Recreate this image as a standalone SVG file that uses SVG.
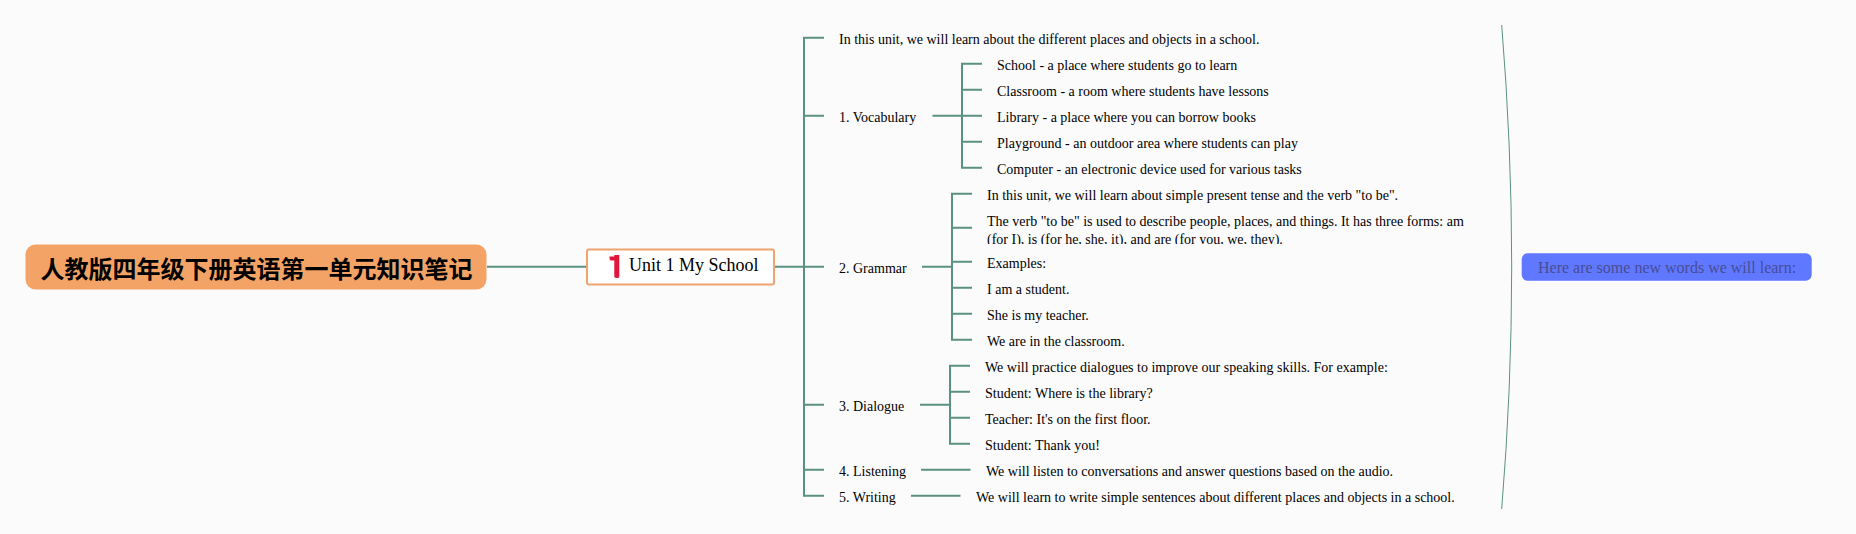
<svg xmlns="http://www.w3.org/2000/svg" width="1856" height="534" viewBox="0 0 1856 534">
<style>
text{font-family:"Liberation Serif","Noto Serif",serif;font-size:14px;fill:#000}
.c{fill:none;stroke:#5b9180;stroke-width:2}
.root{font-family:"Noto Sans CJK SC",sans-serif;font-size:24px;font-weight:700}
.unit{font-size:18px}
.sum{font-size:16px;fill:#474d94}
</style>
<defs>
<clipPath id="clipVerb"><rect x="980" y="208" width="500" height="36"/></clipPath>
</defs>
<rect id="background" width="1856" height="534" fill="#fbfbfc"/>
<g id="connectors">
<path class="c" d="M487 266.700H587M774 266.700H804"/>
<path class="c" d="M824 37.700H804V495.700H824M804 115.700H824M804 266.700H824M804 404.700H824M804 469.700H824"/>
<path class="c" d="M932.500 115.700H982M982 63.700H962V167.700H982M962 89.700H982M962 141.700H982"/>
<path class="c" d="M922 266.700H952M972 193.700H952V339.700H972M952 227.700H972M952 287.700H972M952 313.700H972M952 261.700H972"/>
<path class="c" d="M920 404.700H950M970 365.700H950V443.700H970M950 391.700H970M950 417.700H970"/>
<path class="c" d="M921 469.700H970.500M911 495.700H960.500"/>
<path fill="none" stroke="#5b9180" stroke-width="1" d="M1501.700 25Q1521.700 267 1501.700 509"/>
</g>
<g id="root"><rect x="25.500" y="244.500" width="461" height="45" rx="10" fill="#f4a366"/><text class="root" x="40.500" y="278">人教版四年级下册英语第一单元知识笔记</text></g>
<g id="unit"><rect x="587" y="249.500" width="187" height="35" rx="2" fill="#fff" stroke="#efa46f" stroke-width="2"/><path d="M609.500 256.500H614.300V255H619.300V276.500Q619.300 278 617 278Q614.300 278 614.300 276.500V260.500H611Q609.500 260.500 609.500 258.500Z" fill="#e0173a"/><text class="unit" x="629" y="271">Unit 1 My School</text></g>
<g id="intro"><text x="839" y="44">In this unit, we will learn about the different places and objects in a school.</text></g>
<g id="vocabulary"><text x="839" y="122">1. Vocabulary</text></g>
<g id="v1"><text x="997" y="70">School - a place where students go to learn</text></g>
<g id="v2"><text x="997" y="96">Classroom - a room where students have lessons</text></g>
<g id="v3"><text x="997" y="122">Library - a place where you can borrow books</text></g>
<g id="v4"><text x="997" y="148">Playground - an outdoor area where students can play</text></g>
<g id="v5"><text x="997" y="174">Computer - an electronic device used for various tasks</text></g>
<g id="grammar"><text x="839" y="272.700">2. Grammar</text></g>
<g id="g1"><text x="987" y="200">In this unit, we will learn about simple present tense and the verb "to be".</text></g>
<g id="g2" clip-path="url(#clipVerb)"><text x="987" y="226">The verb "to be" is used to describe people, places, and things. It has three forms: am</text><text x="987" y="244">(for I), is (for he, she, it), and are (for you, we, they).</text></g>
<g id="g3"><text x="987" y="268">Examples:</text></g>
<g id="g4"><text x="987" y="294">I am a student.</text></g>
<g id="g5"><text x="987" y="320">She is my teacher.</text></g>
<g id="g6"><text x="987" y="346">We are in the classroom.</text></g>
<g id="dialogue"><text x="839" y="411">3. Dialogue</text></g>
<g id="d1"><text x="985" y="372">We will practice dialogues to improve our speaking skills. For example:</text></g>
<g id="d2"><text x="985" y="398">Student: Where is the library?</text></g>
<g id="d3"><text x="985" y="424">Teacher: It's on the first floor.</text></g>
<g id="d4"><text x="985" y="450">Student: Thank you!</text></g>
<g id="listening"><text x="839" y="476">4. Listening</text></g>
<g id="l1"><text x="986" y="476">We will listen to conversations and answer questions based on the audio.</text></g>
<g id="writing"><text x="839" y="502">5. Writing</text></g>
<g id="w1"><text x="976" y="502">We will learn to write simple sentences about different places and objects in a school.</text></g>
<g id="summary"><rect x="1521.700" y="253.300" width="290" height="27.400" rx="6" fill="#6078ff"/><text class="sum" x="1538" y="272.700">Here are some new words we will learn:</text></g>
</svg>
